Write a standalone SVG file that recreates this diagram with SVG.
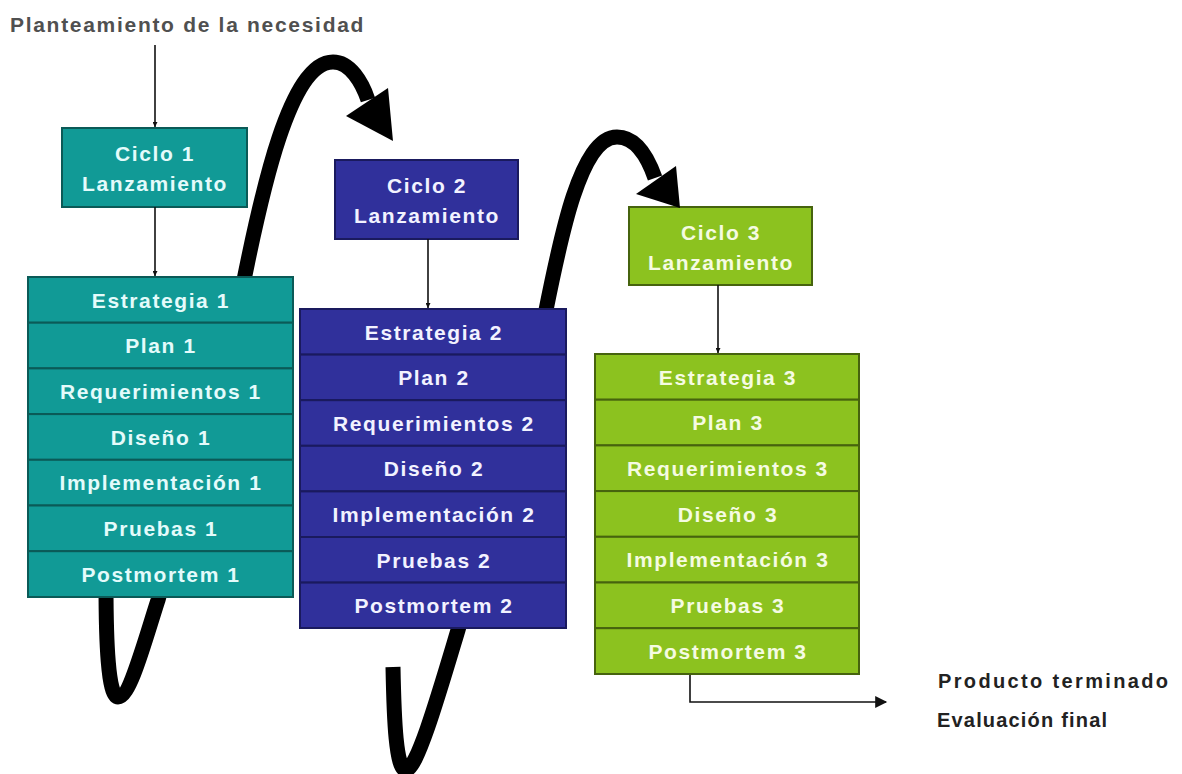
<svg xmlns="http://www.w3.org/2000/svg" width="1182" height="774" viewBox="0 0 1182 774">
<defs>
<marker id="ah" viewBox="0 0 10 10" refX="10" refY="5" markerWidth="5" markerHeight="5" markerUnits="userSpaceOnUse" orient="auto">
<path d="M0,0 L10,5 L0,10 z" fill="#111"/>
</marker>
<marker id="ahBig" viewBox="0 0 10 10" refX="9" refY="5" markerWidth="14" markerHeight="12" markerUnits="userSpaceOnUse" orient="auto">
<path d="M0,0 L10,5 L0,10 z" fill="#111"/>
</marker>
<style>
text{font-family:"Liberation Sans",Arial,sans-serif;font-weight:bold;font-size:21px;letter-spacing:1.6px;text-anchor:middle}
.t1 rect{fill:#119a96;stroke:#0b5a57;stroke-width:2}
.t1 text{fill:#e4fbfb}
.t2 rect{fill:#30309b;stroke:#1a1a5e;stroke-width:2}
.t2 text{fill:#f2f2ff}
.t3 rect{fill:#8cc21f;stroke:#46630e;stroke-width:2}
.t3 text{fill:#f5fbe2}
.thin{fill:none;stroke:#111;stroke-width:1.6}
.thick{fill:none;stroke:#000;stroke-width:15;stroke-linecap:butt;stroke-linejoin:round}
.lbl{fill:#222;text-anchor:start}
</style>
</defs>
<rect width="1182" height="774" fill="#fff"/>

<text class="lbl" x="10" y="32" style="fill:#505050;letter-spacing:1.7px">Planteamiento de la necesidad</text>

<g id="ciclo1" class="t1">
<rect x="62" y="128" width="185" height="79"/>
<text x="155" y="161">Ciclo 1</text>
<text x="155" y="191">Lanzamiento</text>
</g>
<g id="ciclo2" class="t2">
<rect x="335" y="160" width="183" height="79"/>
<text x="427" y="193">Ciclo 2</text>
<text x="427" y="223">Lanzamiento</text>
</g>
<g id="ciclo3" class="t3">
<rect x="629" y="207" width="183" height="78"/>
<text x="721" y="240">Ciclo 3</text>
<text x="721" y="270">Lanzamiento</text>
</g>

<g id="connectors">
<path class="thin" d="M155,45 V127" marker-end="url(#ah)"/>
<path class="thin" d="M155,207 V276" marker-end="url(#ah)"/>
<path class="thin" d="M428,239 V308" marker-end="url(#ah)"/>
<path class="thin" d="M718,285 V353" marker-end="url(#ah)"/>
<path class="thin" d="M690,674 V702 H886" marker-end="url(#ahBig)"/>
<path class="thick" d="M106,585 C106,640 108,697 118,697 C130,697 145,640 158,600 L243,285 C262,190 290,62 333,62 C350,62 362,82 368,100"/>
<polygon points="346,116 393,141 388,88" fill="#000"/>
<path class="thick" d="M393,667 C394,720 396,770 406,770 C417,770 440,690 458,630 L545,315 C560,240 580,137 617,137 C636,137 648,158 655,178"/>
<polygon points="636,194 680,208 676,166" fill="#000"/>
</g>

<g id="fases1" class="t1">
<rect x="28" y="277" width="265" height="45.7"/>
<rect x="28" y="322.7" width="265" height="45.7"/>
<rect x="28" y="368.4" width="265" height="45.7"/>
<rect x="28" y="414.1" width="265" height="45.7"/>
<rect x="28" y="459.8" width="265" height="45.7"/>
<rect x="28" y="505.5" width="265" height="45.7"/>
<rect x="28" y="551.2" width="265" height="45.8"/>
<text x="161" y="307.5">Estrategia 1</text>
<text x="161" y="353.2">Plan 1</text>
<text x="161" y="398.9">Requerimientos 1</text>
<text x="161" y="444.6">Diseño 1</text>
<text x="161" y="490.3">Implementación 1</text>
<text x="161" y="536">Pruebas 1</text>
<text x="161" y="581.7">Postmortem 1</text>
</g>

<g id="fases2" class="t2">
<rect x="300" y="309" width="266" height="45.6"/>
<rect x="300" y="354.6" width="266" height="45.6"/>
<rect x="300" y="400.2" width="266" height="45.6"/>
<rect x="300" y="445.8" width="266" height="45.6"/>
<rect x="300" y="491.4" width="266" height="45.6"/>
<rect x="300" y="537" width="266" height="45.6"/>
<rect x="300" y="582.6" width="266" height="45.4"/>
<text x="434" y="339.5">Estrategia 2</text>
<text x="434" y="385.1">Plan 2</text>
<text x="434" y="430.7">Requerimientos 2</text>
<text x="434" y="476.3">Diseño 2</text>
<text x="434" y="521.9">Implementación 2</text>
<text x="434" y="567.5">Pruebas 2</text>
<text x="434" y="613.1">Postmortem 2</text>
</g>

<g id="fases3" class="t3">
<rect x="595" y="354" width="264" height="45.7"/>
<rect x="595" y="399.7" width="264" height="45.7"/>
<rect x="595" y="445.4" width="264" height="45.7"/>
<rect x="595" y="491.1" width="264" height="45.7"/>
<rect x="595" y="536.8" width="264" height="45.7"/>
<rect x="595" y="582.5" width="264" height="45.7"/>
<rect x="595" y="628.2" width="264" height="45.8"/>
<text x="728" y="384.5">Estrategia 3</text>
<text x="728" y="430.2">Plan 3</text>
<text x="728" y="475.9">Requerimientos 3</text>
<text x="728" y="521.6">Diseño 3</text>
<text x="728" y="567.3">Implementación 3</text>
<text x="728" y="613">Pruebas 3</text>
<text x="728" y="658.7">Postmortem 3</text>
</g>

<g id="resultado">
<text class="lbl" x="938" y="688" textLength="230" lengthAdjust="spacing" style="letter-spacing:0;font-size:20px">Producto terminado</text>
<text class="lbl" x="937" y="727" textLength="170" lengthAdjust="spacing" style="letter-spacing:0;font-size:20px">Evaluación final</text>
</g>
</svg>
